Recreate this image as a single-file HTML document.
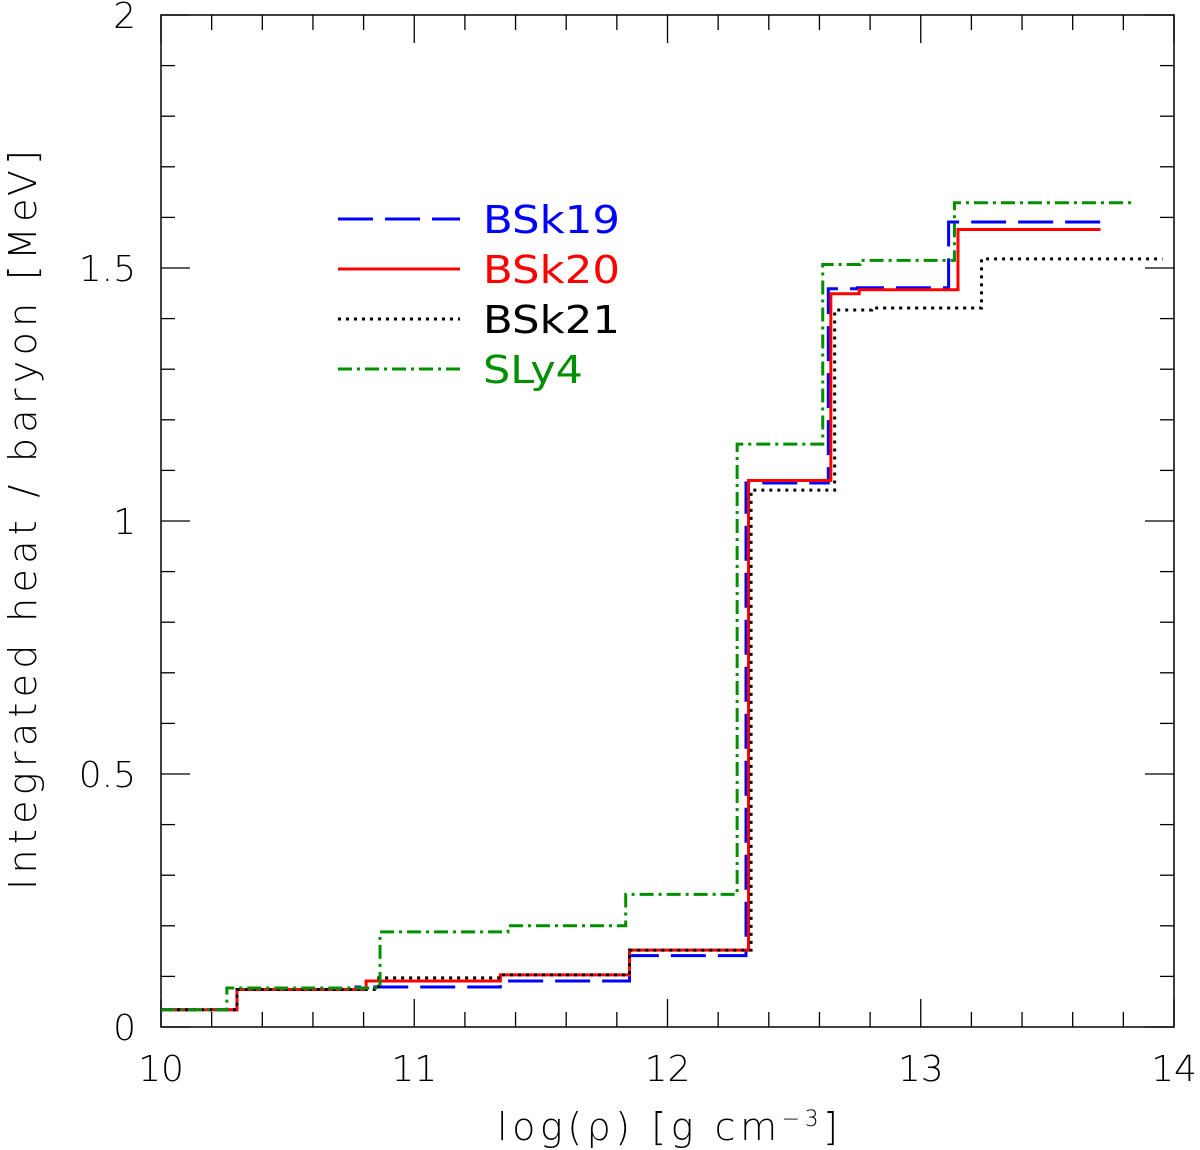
<!DOCTYPE html>
<html><head><meta charset="utf-8">
<style>
html,body{margin:0;padding:0;background:#fff;}
svg{display:block;}
text{font-family:"DejaVu Sans","Liberation Sans",sans-serif;}
</style></head>
<body>
<svg id="chart" width="1200" height="1150" viewBox="0 0 1200 1150" xmlns="http://www.w3.org/2000/svg">
<g id="axes"></g>
<g id="series"></g>
<g id="legend"></g>
<text x="497" y="1140" font-size="38" font-weight="300" textLength="341" lengthAdjust="spacing">log(ρ)  [g  cm<tspan font-size="22" dy="-14">−3</tspan><tspan dy="14">]</tspan></text>
<text transform="translate(36,520) rotate(-90)" text-anchor="middle" font-size="38" font-weight="300" textLength="740" lengthAdjust="spacing">Integrated heat / baryon [MeV]</text>
</svg>
<script>
const xTicks = [10, 11, 12, 13, 14];
const yTicks = [0, 0.5, 1, 1.5, 2];
const yTickLabels = ["0", "0.5", "1", "1.5", "2"];
const seriesNames = ["BSk19", "BSk20", "BSk21", "SLy4"];
const bsk19X = [10, 10.30, 10.77, 11.34, 11.85, 12.31, 12.635, 12.75, 13.11, 13.72];
const bsk19Y = [0.034, 0.074, 0.079, 0.091, 0.141, 1.075, 1.459, 1.461, 1.591, 1.591];
const bsk20X = [10, 10.30, 10.81, 11.34, 11.85, 12.32, 12.645, 12.757, 13.147, 13.71];
const bsk20Y = [0.034, 0.074, 0.091, 0.103, 0.152, 1.080, 1.449, 1.457, 1.576, 1.576];
const bsk21X = [10, 10.30, 10.86, 11.34, 11.85, 12.33, 12.66, 12.806, 13.24, 13.955];
const bsk21Y = [0.034, 0.074, 0.097, 0.103, 0.152, 1.061, 1.417, 1.421, 1.518, 1.518];
const sly4X = [10, 10.26, 10.865, 11.37, 11.835, 12.275, 12.613, 12.76, 13.133, 13.83];
const sly4Y = [0.034, 0.077, 0.188, 0.200, 0.262, 1.152, 1.507, 1.515, 1.629, 1.629];

const L=161,R=1174,T=15,B=1027;
const xs=v=>L+(v-10)/(14-10)*(R-L);
const ys=v=>B-(v-0)/(2-0)*(B-T);
const NS="http://www.w3.org/2000/svg";
function mk(tag,attrs,parent){const e=document.createElementNS(NS,tag);for(const k in attrs)e.setAttribute(k,attrs[k]);parent.appendChild(e);return e;}
const axes=document.getElementById('axes');
const frame=mk('rect',{x:L,y:T,width:R-L,height:B-T,fill:'none',stroke:'#000','stroke-width':1.5},axes);


for(let i=0;i<=20;i++){const v=10+i*0.2;const x=xs(v);const maj=i%5===0;const len=maj?28:15;
 const t1=mk('line',{x1:x,x2:x,y1:B,y2:B-len,stroke:'#000','stroke-width':1.3},axes);
 
 
 const t2=mk('line',{x1:x,x2:x,y1:T,y2:T+len,stroke:'#000','stroke-width':1.3},axes);
 
 }
xTicks.forEach(v=>{const t=mk('text',{x:xs(v),y:1081,'text-anchor':'middle','font-size':36,'font-weight':300},axes);t.textContent=String(v);
 
 });
for(let i=0;i<=20;i++){const v=i*0.1;const y=ys(v);const maj=i%5===0;const len=maj?29:14;
 const t1=mk('line',{x1:L,x2:L+len,y1:y,y2:y,stroke:'#000','stroke-width':1.3},axes);
 
 
 const t2=mk('line',{x1:R,x2:R-len,y1:y,y2:y,stroke:'#000','stroke-width':1.3},axes);
 
 }
yTicks.forEach((v,i)=>{const t=mk('text',{x:136,y:ys(v)+13,'text-anchor':'end','font-size':36,'font-weight':300},axes);t.textContent=yTickLabels[i];
 
 });
const styles=[
 {c:'#0000ff',d:'35 12'},
 {c:'#ff0000',d:''},
 {c:'#000000',d:'3 5'},
 {c:'#008f00',d:'14 5 3 5'}];
const data=[[bsk19X,bsk19Y],[bsk20X,bsk20Y],[bsk21X,bsk21Y],[sly4X,sly4Y]];
const sg=document.getElementById('series');
data.forEach((d,k)=>{const [X,Y]=d;let p=`M${xs(X[0])},${ys(Y[0])}`;
 for(let i=1;i<X.length;i++){p+=` H${xs(X[i])} V${ys(Y[i])}`;}
 const path=mk('path',{d:p,fill:'none',stroke:styles[k].c,'stroke-width':3,'stroke-dasharray':styles[k].d},sg);
 
 });
const lg=document.getElementById('legend');
const legendWidths=[137,137,137,100];
seriesNames.forEach((n,k)=>{const y=219+k*50;
 const ln=mk('line',{x1:338,x2:460,y1:y,y2:y,stroke:styles[k].c,'stroke-width':3,'stroke-dasharray':styles[k].d},lg);
 
 
 const t=mk('text',{x:483,y:y+14,'font-size':38,fill:styles[k].c,textLength:legendWidths[k],lengthAdjust:'spacingAndGlyphs'},lg);t.textContent=n;
 
 });
</script>
</body></html>
